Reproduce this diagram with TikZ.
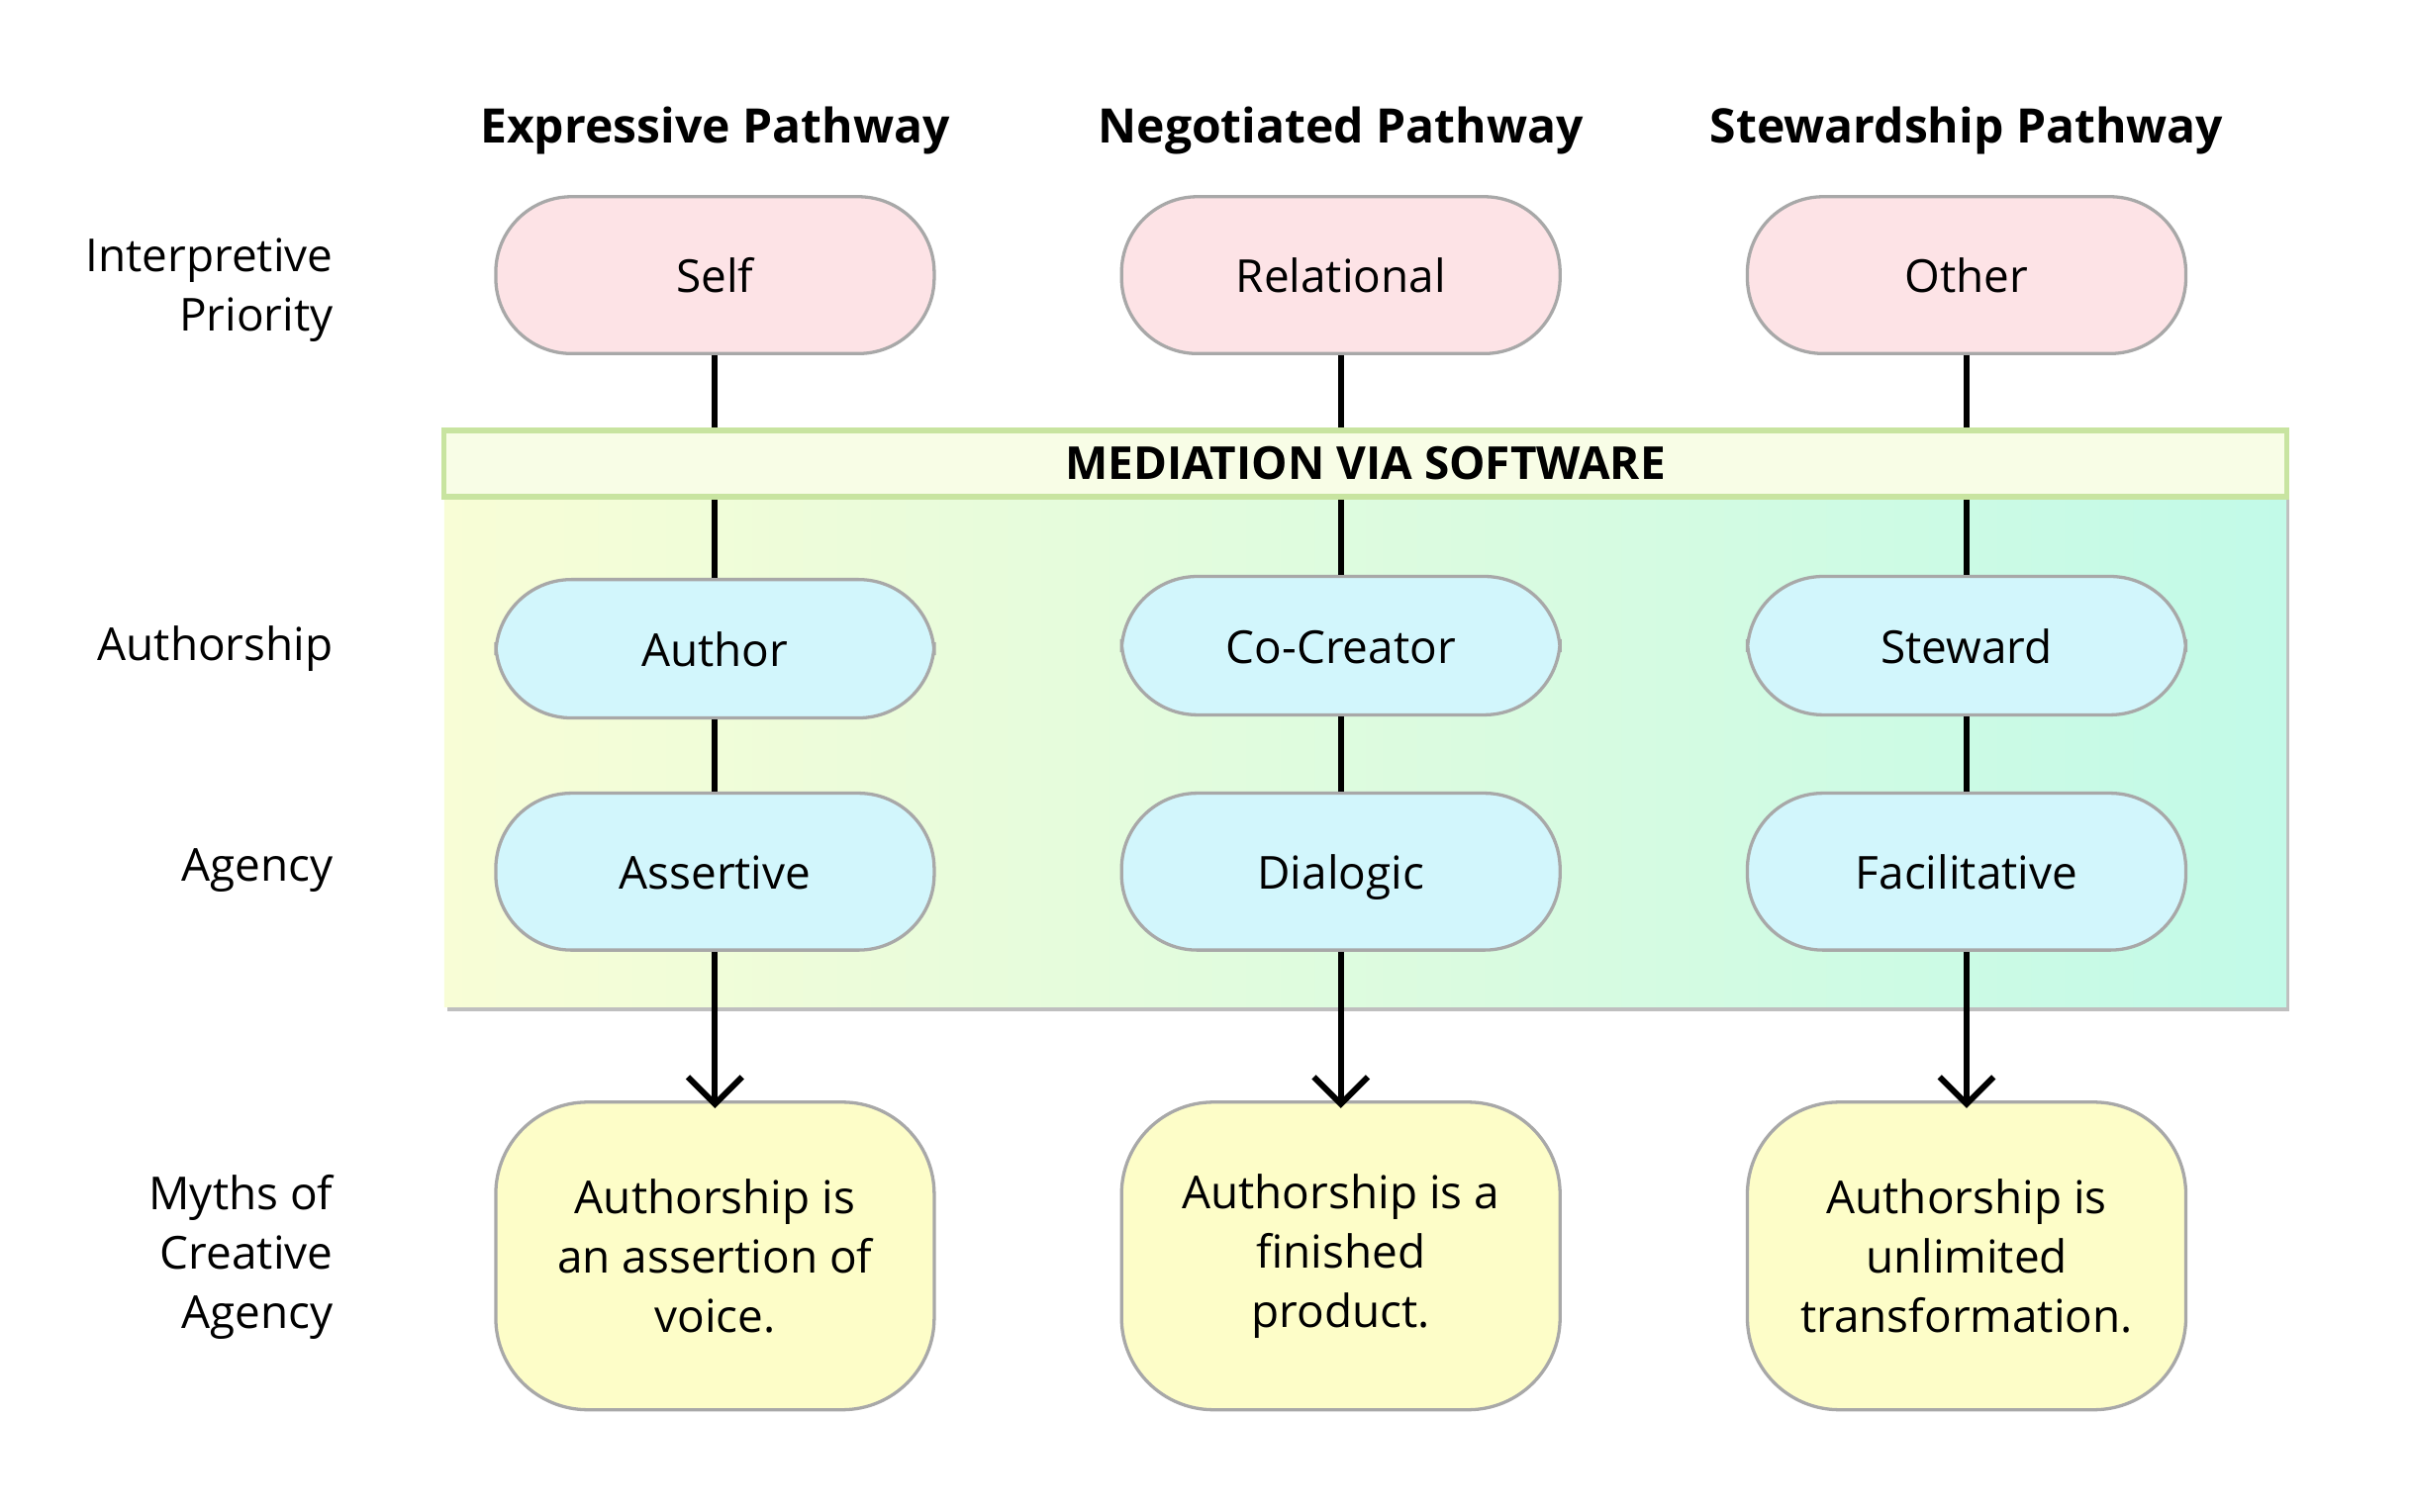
\documentclass[tikz,border=0pt]{standalone}
\usepackage{fontspec}
\setmainfont{Open Sans}
\usetikzlibrary{arrows.meta}
\definecolor{pinkfill}{HTML}{FDE3E6}
\definecolor{bluefill}{HTML}{D2F6FC}
\definecolor{mythfill}{HTML}{FDFDC8}
\definecolor{bandL}{HTML}{F8FDD6}
\definecolor{bandR}{HTML}{C2FAE8}
\definecolor{stripfill}{HTML}{F8FDE6}
\definecolor{stripdraw}{HTML}{C8E4A0}
\definecolor{nodedraw}{HTML}{A8A8A8}

\begin{document}
\begin{tikzpicture}[x=0.01cm,y=-0.01cm,
    every node/.style={font=\fontsize{8.4}{11}\selectfont},
    pill/.style={draw=nodedraw, line width=0.6pt, rounded corners=14pt, minimum width=2.85cm,
                 align=center, text height=1.6ex, text depth=0.4ex},
    prio/.style={pill, fill=pinkfill, minimum height=1.02cm},
    role/.style={pill, fill=bluefill, minimum height=0.9cm},
    agen/.style={pill, fill=bluefill, minimum height=1.02cm},
    myth/.style={pill, fill=mythfill, minimum height=2.0cm, rounded corners=17pt, text height=, text depth=},
    head/.style={font=\fontsize{8.8}{11}\selectfont\bfseries},
    rowlab/.style={anchor=east, align=right, font=\fontsize{8.4}{11}\selectfont},
    link/.style={line width=1.1pt},
    flow/.style={link, -{Straight Barb[length=5pt, width=10pt, line width=1.1pt]}}]
  \useasboundingbox (0,0) rectangle (1568,983);

  % pathway headers
  \node[head] (h1) at (465,85) {Expressive Pathway};
  \node[head] (h2) at (872,85) {Negotiated Pathway};
  \node[head] (h3) at (1279,85) {Stewardship Pathway};

  % row labels
  \node[rowlab] (l1) at (229,189) {Interpretive\\Priority};
  \node[rowlab] (l2) at (229,422) {Authorship};
  \node[rowlab] (l3) at (229,566) {Agency};
  \node[rowlab] (l4) at (229,818) {Myths of\\Creative\\Agency};

  % mediation band
  \fill[black!25] (291,284) rectangle (1489,658);
  \fill[left color=bandL, right color=bandR] (289,280) rectangle (1487,655);

  % nodes
  \node[prio] (p1) at (465,179) {Self};
  \node[prio] (p2) at (872,179) {Relational};
  \node[prio] (p3) at (1279,179) {Other};
  \node[role] (r1) at (465,422) {Author};
  \node[role] (r2) at (872,420) {Co-Creator};
  \node[role] (r3) at (1279,420) {Steward};
  \node[agen] (a1) at (465,567) {Assertive};
  \node[agen] (a2) at (872,567) {Dialogic};
  \node[agen] (a3) at (1279,567) {Facilitative};
  \node[myth] (m1) at (465,817) {Authorship is\\an assertion of\\voice.};
  \node[myth] (m2) at (872,817) {Authorship is a\\finished\\product.};
  \node[myth] (m3) at (1279,817) {Authorship is\\unlimited\\transformation.};

  % connectors
  \foreach \i in {1,2,3} {
    \draw[link] (p\i) -- (r\i);
    \draw[link] (r\i) -- (a\i);
    \draw[flow] (a\i) -- ([yshift=-0.05cm]m\i.north);
  }

  % strip
  \node[draw=stripdraw, fill=stripfill, line width=1pt, minimum width=11.98cm, minimum height=0.43cm,
        inner sep=0pt, font=\fontsize{8.4}{11}\selectfont\bfseries] (strip) at (888,301.5) {MEDIATION VIA SOFTWARE};
\end{tikzpicture}
\end{document}
